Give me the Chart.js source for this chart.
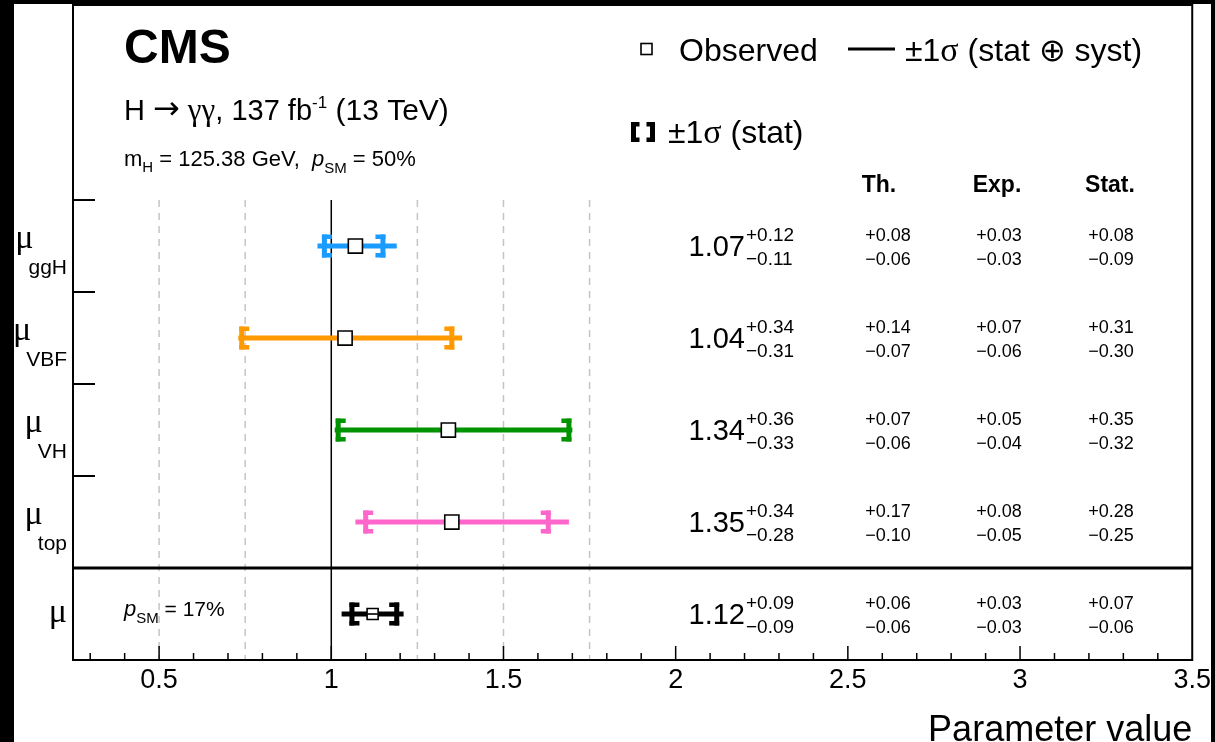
<!DOCTYPE html>
<html>
<head>
<meta charset="utf-8">
<script src="https://cdn.jsdelivr.net/npm/chart.js@4.4.0/dist/chart.umd.min.js"></script>
<style>
  html, body { margin: 0; padding: 0; background: #000; }
  #wrap { width: 1215px; height: 742px; }
</style>
</head>
<body>
<div id="wrap"><canvas id="c" width="1215" height="742"></canvas></div>
<script>
// Signal strength fits, one row per production mode plus the inclusive mu
const params = ['ggH', 'VBF', 'VH', 'top', ''];
const rowPos = [4, 3, 2, 1, 0];
const best = [1.07, 1.04, 1.34, 1.35, 1.12];
const totUp = [0.12, 0.34, 0.36, 0.34, 0.09];
const totDown = [0.11, 0.31, 0.33, 0.28, 0.09];
const thUp = [0.08, 0.14, 0.07, 0.17, 0.06];
const thDown = [0.06, 0.07, 0.06, 0.10, 0.06];
const expUp = [0.03, 0.07, 0.05, 0.08, 0.03];
const expDown = [0.03, 0.06, 0.04, 0.05, 0.03];
const statUp = [0.08, 0.31, 0.35, 0.28, 0.07];
const statDown = [0.09, 0.30, 0.32, 0.25, 0.06];
const barColors = ['#1a9bff', '#ff9900', '#009300', '#ff66cc', '#000000'];

// Axis layout
const xTickLabels = [0.5, 1, 1.5, 2, 2.5, 3, 3.5];
const dashedRefs = [0.5, 0.75, 1.25, 1.5, 1.75];
const rowEdges = [1.5, 2.5, 3.5, 4.5];

const FONT = "'Liberation Sans', Arial, Helvetica, sans-serif";
const GREEK = "'Liberation Serif', 'DejaVu Serif', serif";
const f = (size, style = '') => `${style} ${size}px ${FONT}`.trim();
const g = size => `${size}px ${GREEK}`;
const fmt = v => v.toFixed(2);
const MINUS = '\u2212';

// Draw a sequence of text pieces (with sub/superscript offsets) on one line
function textRun(ctx, x, y, parts, align = 'left') {
  let total = 0;
  parts.forEach(p => {
    ctx.font = p.font;
    p.w = ctx.measureText(p.t).width + (p.gap || 0);
    total += p.w;
  });
  let cx = align === 'right' ? x - total : align === 'center' ? x - total / 2 : x;
  parts.forEach(p => {
    ctx.font = p.font;
    ctx.fillText(p.t, cx, y + (p.dy || 0));
    cx += p.w;
  });
}

function bracket(ctx, x, y, dir, color, h = 23, tab = 5) {
  // dir = 1 opens to the right ("["), -1 opens to the left ("]")
  const w = 5, t = 4.5;
  ctx.fillStyle = color;
  ctx.fillRect(x - w / 2, y - h / 2, w, h);
  const tx = dir > 0 ? x - w / 2 : x + w / 2 - (w + tab);
  ctx.fillRect(tx, y - h / 2, w + tab, t);
  ctx.fillRect(tx, y + h / 2 - t, w + tab, t);
}

const errorLines = params.map((p, i) => ({
  type: 'line',
  data: [
    { x: best[i] - totDown[i], y: rowPos[i] },
    { x: best[i] + totUp[i], y: rowPos[i] }
  ],
  borderColor: barColors[i],
  borderWidth: 5,
  borderCapStyle: 'butt',
  pointRadius: 0,
  showLine: true,
  order: 2
}));

const markers = {
  type: 'scatter',
  data: best.map((b, i) => ({ x: b, y: rowPos[i] })),
  pointStyle: 'rect',
  pointRadius: best.map((_, i) => (params[i] === '' ? 7.8 : 10)),
  pointBackgroundColor: '#fff',
  pointBorderColor: '#000',
  pointBorderWidth: 1.6,
  order: 1
};

const decor = {
  id: 'decor',
  beforeDraw(chart) {
    const { ctx } = chart;
    ctx.save();
    ctx.fillStyle = '#fff';
    ctx.fillRect(0, 0, chart.width, chart.height);
    ctx.restore();
  },
  beforeDatasetsDraw(chart) {
    const { ctx, chartArea: a, scales: { x, y } } = chart;
    const top = y.getPixelForValue(4.5);
    ctx.save();
    ctx.strokeStyle = '#c4c4c4';
    ctx.lineWidth = 1.5;
    ctx.setLineDash([7, 6]);
    dashedRefs.forEach(v => {
      const px = x.getPixelForValue(v);
      ctx.beginPath();
      ctx.moveTo(px, top);
      ctx.lineTo(px, a.bottom);
      ctx.stroke();
    });
    ctx.setLineDash([]);
    ctx.strokeStyle = '#000';
    ctx.lineWidth = 1.5;
    const one = x.getPixelForValue(1);
    ctx.beginPath();
    ctx.moveTo(one, top);
    ctx.lineTo(one, a.bottom);
    ctx.stroke();
    // separator between per-mode and inclusive results
    ctx.lineWidth = 3;
    const sep = y.getPixelForValue(0.5);
    ctx.beginPath();
    ctx.moveTo(a.left, sep);
    ctx.lineTo(a.right, sep);
    ctx.stroke();
    ctx.restore();
  },
  afterDatasetsDraw(chart) {
    const { ctx, chartArea: a, scales: { x, y } } = chart;
    ctx.save();

    // stat-only brackets
    params.forEach((p, i) => {
      const py = y.getPixelForValue(rowPos[i]);
      bracket(ctx, x.getPixelForValue(best[i] - statDown[i]), py, 1, barColors[i]);
      bracket(ctx, x.getPixelForValue(best[i] + statUp[i]), py, -1, barColors[i]);
      if (p === '') {
        const mx = x.getPixelForValue(best[i]);
        ctx.fillStyle = '#000';
        ctx.fillRect(mx - 5, py - 0.8, 10, 1.6);
      }
    });

    // frame
    ctx.strokeStyle = '#000';
    ctx.lineWidth = 2;
    ctx.strokeRect(a.left, a.top, a.right - a.left, a.bottom - a.top);

    // x tick marks, major every 0.5, minor every 0.1
    ctx.lineWidth = 1.5;
    for (let k = 3; k <= 34; k++) {
      const px = x.getPixelForValue(k / 10);
      const len = k % 5 === 0 ? 14 : 7;
      ctx.beginPath();
      ctx.moveTo(px, a.bottom);
      ctx.lineTo(px, a.bottom - len);
      ctx.stroke();
    }
    // y tick marks between rows
    ctx.lineWidth = 2;
    rowEdges.forEach(v => {
      const py = y.getPixelForValue(v);
      ctx.beginPath();
      ctx.moveTo(a.left, py);
      ctx.lineTo(a.left + 22, py);
      ctx.stroke();
    });

    ctx.fillStyle = '#000';
    ctx.textBaseline = 'alphabetic';
    ctx.textAlign = 'left';

    // row labels
    params.forEach((p, i) => {
      const py = y.getPixelForValue(rowPos[i]);
      if (p) {
        textRun(ctx, 67, py + 2, [
          { t: '\u03bc', font: g(34), gap: -5 },
          { t: p, font: f(21), dy: 26 }
        ], 'right');
      } else {
        textRun(ctx, 67, py + 8, [{ t: '\u03bc', font: g(34) }], 'right');
      }
    });

    // best fit values and uncertainty breakdown
    params.forEach((p, i) => {
      const py = y.getPixelForValue(rowPos[i]);
      textRun(ctx, 745, py + 10, [{ t: fmt(best[i]), font: f(29) }], 'right');
      textRun(ctx, 746, py - 5, [{ t: '+' + fmt(totUp[i]), font: f(19) }]);
      textRun(ctx, 746, py + 19, [{ t: MINUS + fmt(totDown[i]), font: f(19) }]);
      [[thUp, thDown, 888], [expUp, expDown, 999], [statUp, statDown, 1111]].forEach(([u, d, cx]) => {
        textRun(ctx, cx, py - 5, [{ t: '+' + fmt(u[i]), font: f(18) }], 'center');
        textRun(ctx, cx, py + 19, [{ t: MINUS + fmt(d[i]), font: f(18) }], 'center');
      });
    });

    // column headers
    ctx.textAlign = 'center';
    ctx.font = f(23, 'bold');
    ctx.fillText('Th.', 879, 192);
    ctx.fillText('Exp.', 997, 192);
    ctx.fillText('Stat.', 1110, 192);
    ctx.textAlign = 'left';

    // header texts
    ctx.font = f(48, 'bold');
    ctx.fillText('CMS', 124, 63);
    textRun(ctx, 124, 120, [
      { t: 'H ', font: f(29) },
      { t: '\u2192', font: `32px 'DejaVu Sans', sans-serif`, dy: -1 },
      { t: ' ', font: f(29) },
      { t: '\u03b3\u03b3', font: g(31) },
      { t: ', 137 fb', font: f(29) },
      { t: '-1', font: f(17), dy: -12 },
      { t: ' (13 TeV)', font: f(30) }
    ]);
    textRun(ctx, 124, 166, [
      { t: 'm', font: f(22) },
      { t: 'H', font: f(15), dy: 6 },
      { t: ' = 125.38 GeV,  ', font: f(22) },
      { t: 'p', font: f(22, 'italic') },
      { t: 'SM', font: f(15), dy: 7 },
      { t: ' = 50%', font: f(22) }
    ]);
    const pMu = y.getPixelForValue(0);
    textRun(ctx, 124, pMu + 2, [
      { t: 'p', font: f(22, 'italic') },
      { t: 'SM', font: f(15), dy: 7 },
      { t: ' = 17%', font: f(21) }
    ]);

    // legend
    ctx.lineWidth = 1.6;
    ctx.strokeRect(641, 43.5, 11, 11);
    ctx.font = f(32);
    ctx.fillText('Observed', 679, 61);
    ctx.lineWidth = 3;
    ctx.beginPath();
    ctx.moveTo(848, 49);
    ctx.lineTo(895, 49);
    ctx.stroke();
    textRun(ctx, 905, 61, [
      { t: '\u00b11', font: f(32) },
      { t: '\u03c3', font: g(34) },
      { t: ' (stat \u2295 syst)', font: f(32) }
    ]);
    bracket(ctx, 633.5, 132, 1, '#000', 20, 3.5);
    bracket(ctx, 652.5, 132, -1, '#000', 20, 3.5);
    textRun(ctx, 668, 143, [
      { t: '\u00b11', font: f(32) },
      { t: '\u03c3', font: g(34) },
      { t: ' (stat)', font: f(32) }
    ]);

    ctx.restore();
  },
  afterDraw(chart) {
    const { ctx } = chart;
    ctx.save();
    ctx.fillStyle = '#000';
    ctx.fillRect(0, 0, 14, chart.height);
    ctx.fillRect(0, 0, chart.width, 4);
    ctx.fillRect(1211, 0, 4, chart.height);
    ctx.restore();
  }
};

new Chart(document.getElementById('c'), {
  type: 'scatter',
  data: { datasets: [...errorLines, markers] },
  options: {
    responsive: false,
    animation: false,
    layout: { autoPadding: false, padding: { left: 73, top: 5, right: 21, bottom: 0 } },
    plugins: { legend: { display: false }, tooltip: { enabled: false } },
    scales: {
      x: {
        type: 'linear',
        min: 0.25,
        max: 3.5,
        afterBuildTicks: s => { s.ticks = xTickLabels.map(v => ({ value: v })); },
        afterFit: s => { s.height = 82; },
        grid: { display: false, drawTicks: false },
        border: { display: false },
        ticks: {
          color: '#000',
          font: { family: FONT, size: 27 },
          padding: 4,
          maxRotation: 0,
          autoSkip: false,
          callback: v => String(v)
        },
        title: {
          display: true,
          text: 'Parameter value',
          align: 'end',
          color: '#000',
          font: { family: FONT, size: 36 },
          padding: { top: 0, bottom: -11 }
        }
      },
      y: { type: 'linear', min: -0.5, max: 6.62, display: false }
    }
  },
  plugins: [decor]
});
</script>
</body>
</html>
